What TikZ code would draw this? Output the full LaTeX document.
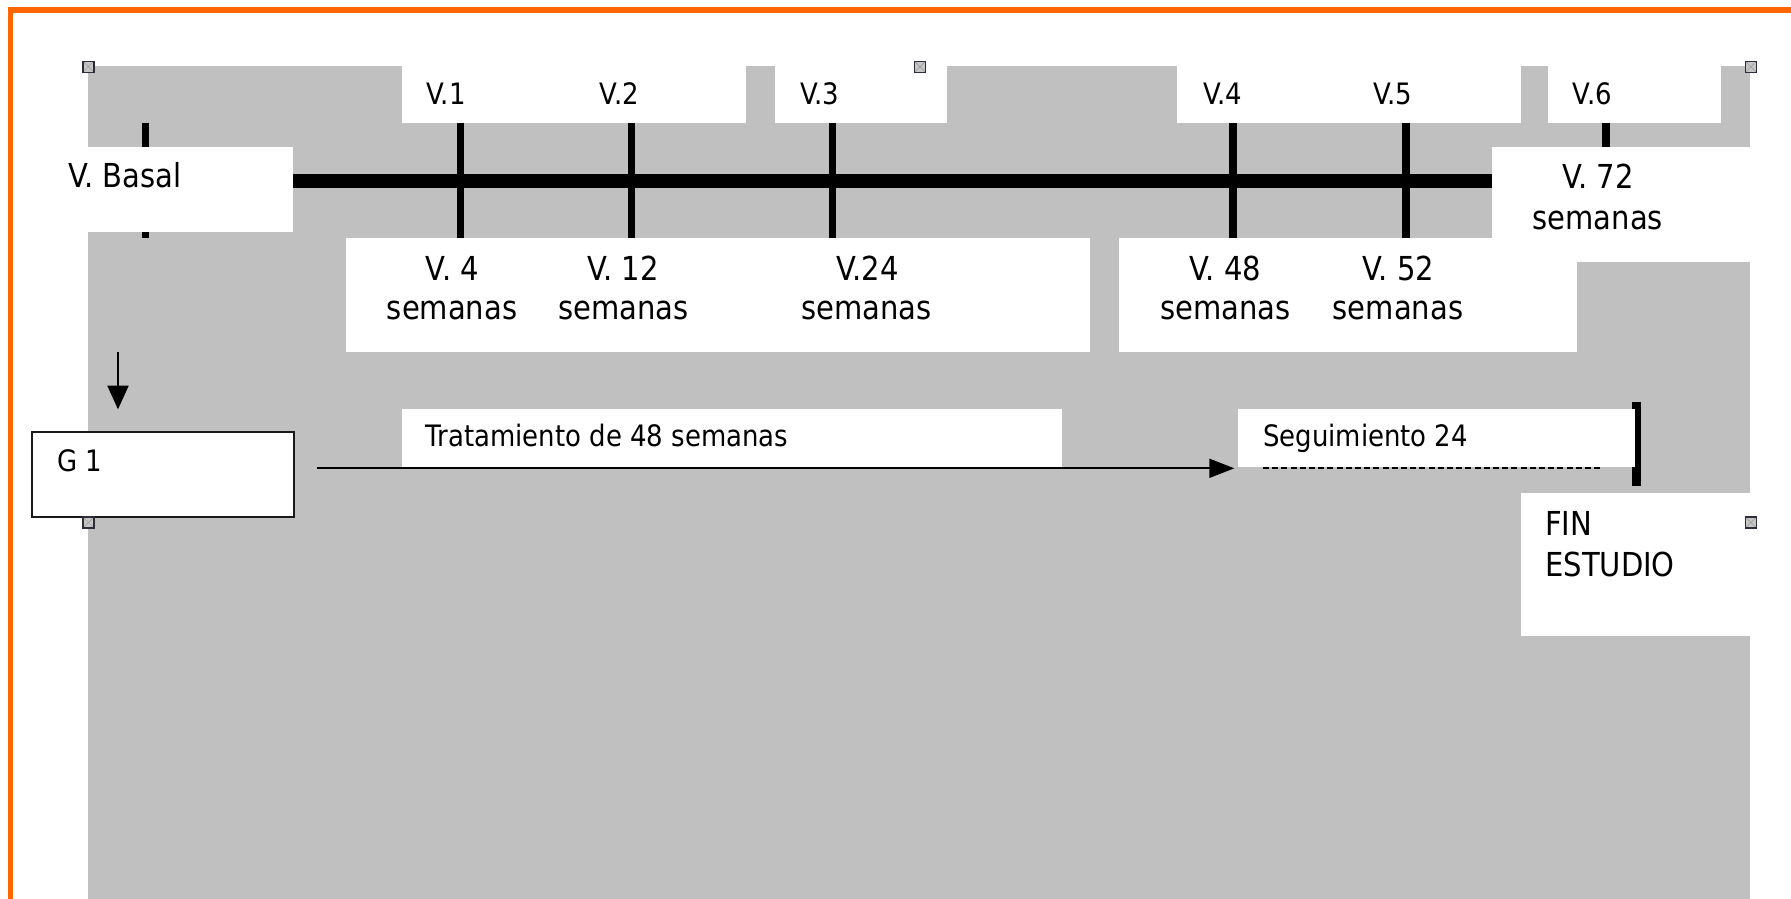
\documentclass[tikz,border=0pt]{standalone}
\usepackage{fontspec}
\setmainfont{DejaVu Sans}[FakeStretch=0.88]
\usetikzlibrary{arrows.meta,calc}
\definecolor{bgray}{HTML}{C0C0C0}
\definecolor{borange}{HTML}{FF6600}
\definecolor{hdl}{HTML}{2E2E3A}
\begin{document}
\begin{tikzpicture}[x=1pt,y=-1pt,
  wbox/.style={fill=white, draw=none, inner sep=0pt, outer sep=0pt, anchor=north west},
  tickline/.style={line width=7.5pt},
  big/.style={font=\fontsize{33}{40}\selectfont, inner sep=0pt},
  small/.style={font=\fontsize{29.5}{35}\selectfont, inner sep=0pt},
  handle/.style={rectangle, minimum size=11pt, inner sep=0pt, fill=gray!45, draw=hdl, line width=1.3pt,
    path picture={\draw[gray!80, line width=0.5pt] (path picture bounding box.north west) -- (path picture bounding box.south east)
      (path picture bounding box.north east) -- (path picture bounding box.south west);}},
  arrowline/.style={line width=1.8pt}
]
\useasboundingbox (0,0) rectangle (1791,898);
% orange frame (top and left)
\draw[borange, line width=5.5pt, line join=miter] (1795,10) -- (10.7,10) -- (10.7,902);
% gray canvas
\fill[bgray] (87.6,66) rectangle (1749.5,902);
% timeline ticks
\foreach \tx in {145.4,460.3,631.4,832.7,1233.1,1406,1606.2}
  \draw[tickline] (\tx,122.7) -- (\tx,238.3);
% white boxes
\node[wbox, minimum width=344pt, minimum height=62.7pt] (top1) at (402.2,60) {};
\node[wbox, minimum width=172.5pt, minimum height=62.7pt] (top2) at (774.9,60) {};
\node[wbox, minimum width=344.1pt, minimum height=62.7pt] (top3) at (1176.7,60) {};
\node[wbox, minimum width=173pt, minimum height=62.7pt] (top4) at (1547.6,60) {};
\node[wbox, minimum width=233.1pt, minimum height=85.6pt] (basal) at (60,146.7) {};
\node[wbox, minimum width=268.2pt, minimum height=115.6pt] (v72) at (1491.8,146.7) {};
\node[wbox, minimum width=744.3pt, minimum height=113.4pt] (bot1) at (345.5,238.3) {};
\node[wbox, minimum width=458.2pt, minimum height=113.4pt] (bot2) at (1118.5,238.3) {};
% main timeline bar
\coordinate (ly) at (0,181);
\draw[line width=14.3pt] (basal.east |- ly) -- (v72.west |- ly);
% end bar of follow-up
\draw[line width=9pt] (1636.2,401.7) -- (1636.2,486);
\node[wbox, minimum width=660pt, minimum height=57.7pt] (trat) at (402.2,409.3) {};
\node[wbox, minimum width=396.7pt, minimum height=58pt] (seg) at (1238.3,409.3) {};
\node[wbox, minimum width=239.3pt, minimum height=142.7pt] (fin) at (1520.7,493.3) {};
\node[wbox, draw=black!90, line width=2pt, minimum width=262.5pt, minimum height=85pt] (g1) at (31.8,431.7) {};
% top labels
\node[small, anchor=base] (tv1) at (446,104) {V.1};
\node[small, anchor=base] (tv2) at (619.3,104) {V.2};
\node[small, anchor=base] (tv3) at (819.7,104) {V.3};
\node[small, anchor=base] (tv4) at (1222.6,104) {V.4};
\node[small, anchor=base] (tv5) at (1392.6,104) {V.5};
\node[small, anchor=base] (tv6) at (1592.2,104) {V.6};
% basal and week labels
\node[big, anchor=base west] (tbasal) at (68.1,187.3) {V. Basal};
\node[big, anchor=base] (w4) at (452.5,280) {V. 4};
\node[big, anchor=base] (w4s) at (452.1,319) {semanas};
\node[big, anchor=base] (w12) at (623,280) {V. 12};
\node[big, anchor=base] (w12s) at (623.6,319) {semanas};
\node[big, anchor=base] (w24) at (867.3,280) {V.24};
\node[big, anchor=base] (w24s) at (866.3,319) {semanas};
\node[big, anchor=base] (w48) at (1225.5,280) {V. 48};
\node[big, anchor=base] (w48s) at (1225.6,319) {semanas};
\node[big, anchor=base] (w52) at (1398.2,280) {V. 52};
\node[big, anchor=base] (w52s) at (1398,319) {semanas};
\node[big, anchor=base] (w72) at (1598,188.3) {V. 72};
\node[big, anchor=base] (w72s) at (1597.7,229) {semanas};
% group and phases
\node[small, anchor=base west] (tg1) at (57.4,471) {G 1};
\node[small, anchor=base west] (ttrat) at (425.5,446.7) {Tratamiento de 48 semanas};
\node[small, anchor=base west] (tseg) at (1262.9,446.7) {Seguimiento 24};
\node[big, anchor=base west] (tfin) at (1545,535.7) {FIN};
\node[big, anchor=base west] (test) at (1545,576) {ESTUDIO};
% arrows
\coordinate (dstart) at (118,352.3);
\coordinate (dend) at (118,409.3);
\draw[arrowline, -{Triangle[length=23.6pt,width=21pt]}] (dstart) -- (dend);
\coordinate (hy) at (0,468.3);
\draw[arrowline, -{Triangle[length=25pt,width=19pt]}] ($(g1.east |- hy)+(22.5,0)$) -- ($(seg.west |- hy)+(-4,0)$);
\draw[line width=1.7pt, dash pattern=on 6pt off 3.2pt] ($(seg.west |- hy)+(24.6,0)$) -- ($(seg.east |- hy)+(-32.7,0)$);
% selection handles
\node[handle] (h1) at (88.4,66.7) {};
\node[handle] (h2) at (920,66.7) {};
\node[handle] (h3) at (1751,66.7) {};
\node[handle] (h4) at (88.4,522.5) {};
\node[handle] (h5) at (1751,522.5) {};
\end{tikzpicture}
\end{document}
